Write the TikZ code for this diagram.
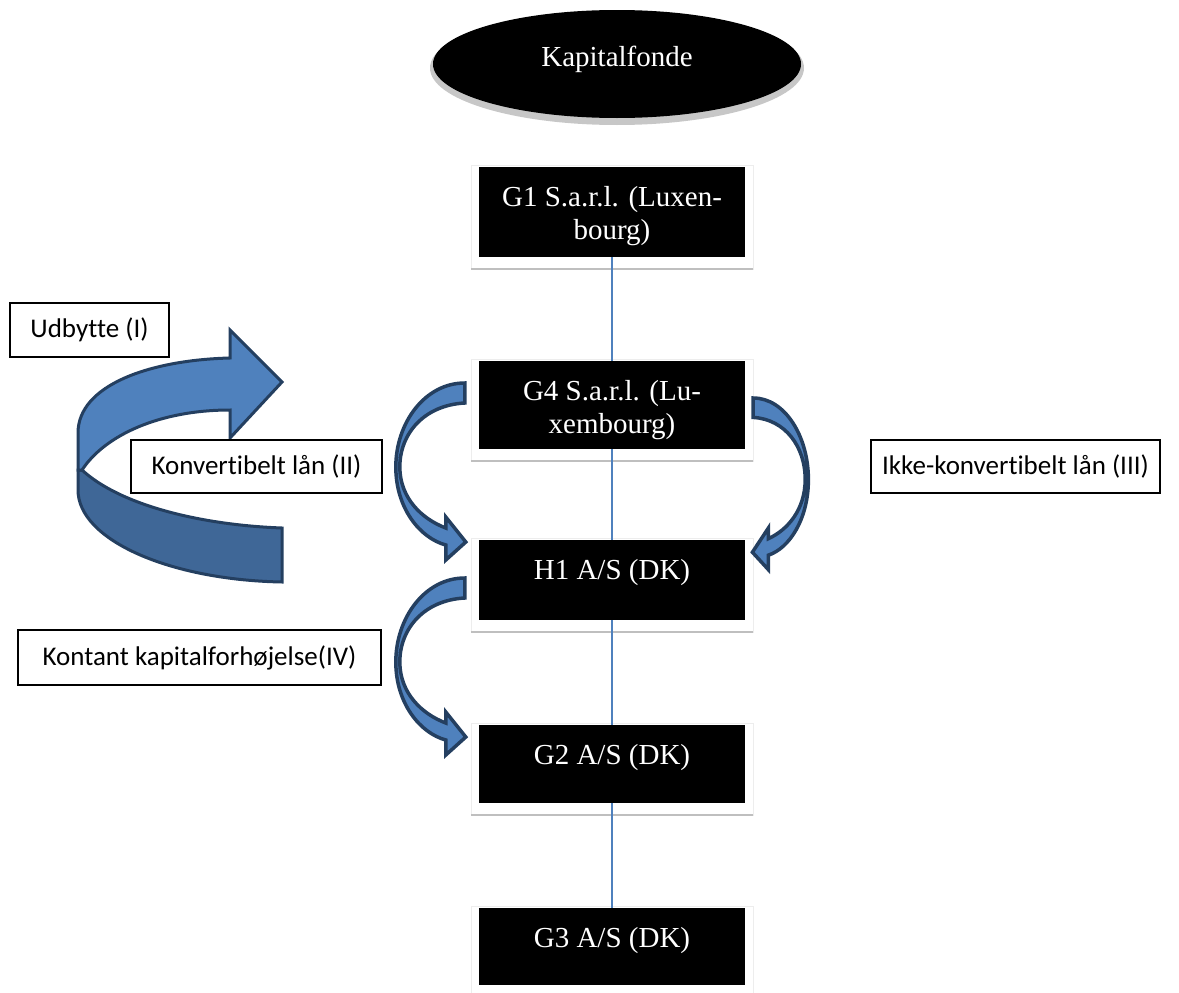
\documentclass[tikz,border=0pt]{standalone}
\usepackage{fontspec}
\setmainfont{Liberation Serif}
\newfontfamily\labelfont{Carlito}[Ligatures=NoCommon]
\usetikzlibrary{positioning,shapes.geometric}

\definecolor{linkblue}{HTML}{4F81BD}
\definecolor{bandlight}{HTML}{4F81BD}
\definecolor{banddark}{HTML}{3F6797}
\definecolor{arrowline}{HTML}{243F60}

\tikzset{
  unitbox/.style={fill=black, minimum width=266pt, inner sep=0pt},
  unittext/.style={text=white, align=center, inner sep=0pt, font=\fontsize{29}{33}\selectfont},
  notebox/.style={draw=black, line width=1.5pt, fill=white, inner sep=0pt,
    font=\labelfont\fontsize{27}{31}\selectfont},
  link/.style={draw=linkblue, line width=1.8pt},
  shadowline/.style={draw=black!25, line width=2.5pt},
  curvedarrow/.pic={
    \draw[fill=bandlight, draw=arrowline, line width=3.5pt]
      (0,0) .. controls (-40,0) and (-69,40) .. (-69,84)
      .. controls (-69,125) and (-45,155) .. (-19,162)
      -- (-19,177) -- (1,159) -- (-19,134) -- (-19,145)
      .. controls (-43,136) and (-65,115) .. (-65,84)
      .. controls (-65,50) and (-40,22) .. (0,20) -- cycle;
  }
}

\begin{document}
\begin{tikzpicture}[x=1pt, y=-1pt]
  \useasboundingbox (0,0) rectangle (1179,993);

  % fund at the top
  \node[ellipse, fill=black!22, minimum width=374pt, minimum height=114pt] (fund shadow) at (617,68) {};
  \node[ellipse, fill=black, minimum width=368pt, minimum height=108pt, text=white,
    font=\fontsize{29}{33}\selectfont, text height=20pt, text depth=16pt] (fund) at (617,64) {Kapitalfonde};

  % company chain
  \node[unitbox, minimum height=90pt] (g1) at (612,212) {};
  \node[unitbox, minimum height=88pt] (g4) at (612,405) {};
  \node[unitbox, minimum height=80pt] (h1) at (612,580) {};
  \node[unitbox, minimum height=78pt] (g2) at (612,764) {};
  \node[unitbox, minimum height=77pt] (g3) at (612,946.5) {};

  \foreach \b in {g1,g4,h1,g2,g3} {
    \draw[black!7, line width=0.6pt] ([shift={(-8pt,2pt)}]\b.north west) rectangle ([shift={(8pt,-12pt)}]\b.south east);
    \draw[shadowline] ([shift={(-8pt,-12pt)}]\b.south west) -- ([shift={(8pt,-12pt)}]\b.south east);
  }

  \node[unittext, below=19pt of g1.north] (g1 text) {G1 S.a.r.l. (Luxen-\\bourg)};
  \node[unittext, below=19pt of g4.north] (g4 text) {G4 S.a.r.l. (Lu-\\xembourg)};
  \node[unittext, below=19pt of h1.north] (h1 text) {H1 A/S (DK)};
  \node[unittext, below=19pt of g2.north] (g2 text) {G2 A/S (DK)};
  \node[unittext, below=19pt of g3.north] (g3 text) {G3 A/S (DK)};

  \draw[link] (g1.south) -- (g4.north);
  \draw[link] (g4.south) -- (h1.north);
  \draw[link] (h1.south) -- (g2.north);
  \draw[link] (g2.south) -- (g3.north);

  % dividend u-turn
  \draw[fill=banddark, draw=arrowline, line width=3pt]
    (82,470) .. controls (120,505) and (200,525) .. (282,528) -- (282,582)
    .. controls (170,580) and (78,540) .. (78,490) -- (78,470) -- cycle;
  \draw[fill=bandlight, draw=arrowline, line width=3pt]
    (78,470) -- (78,433) .. controls (78,385) and (150,360) .. (230,358)
    -- (230,330) -- (282,382) -- (230,438) -- (230,410)
    .. controls (160,410) and (105,435) .. (82,470) -- cycle;

  % loans and capital
  \pic at ([shift={(-14,-22)}]g4.west) {curvedarrow};
  \pic at ([shift={(-14,-2)}]h1.west) {curvedarrow};
  \pic[xscale=-0.8, yscale=0.97] at ([shift={(8,-7)}]g4.east) {curvedarrow};

  \node[notebox, minimum width=159pt, minimum height=54pt] (dividend) at (89.5,330) {Udbytte (I)};
  \node[notebox, minimum width=251pt, minimum height=53pt] (conv loan) at (256.5,466.5) {Konvertibelt lån (II)};
  \node[notebox, minimum width=289pt, minimum height=53pt] (plain loan) at (1015.5,466.5) {Ikke-konvertibelt lån (III)};
  \node[notebox, minimum width=363pt, minimum height=55pt] (cash capital) at (199.5,657.5) {Kontant kapitalforhøjelse(IV)};
\end{tikzpicture}
\end{document}
